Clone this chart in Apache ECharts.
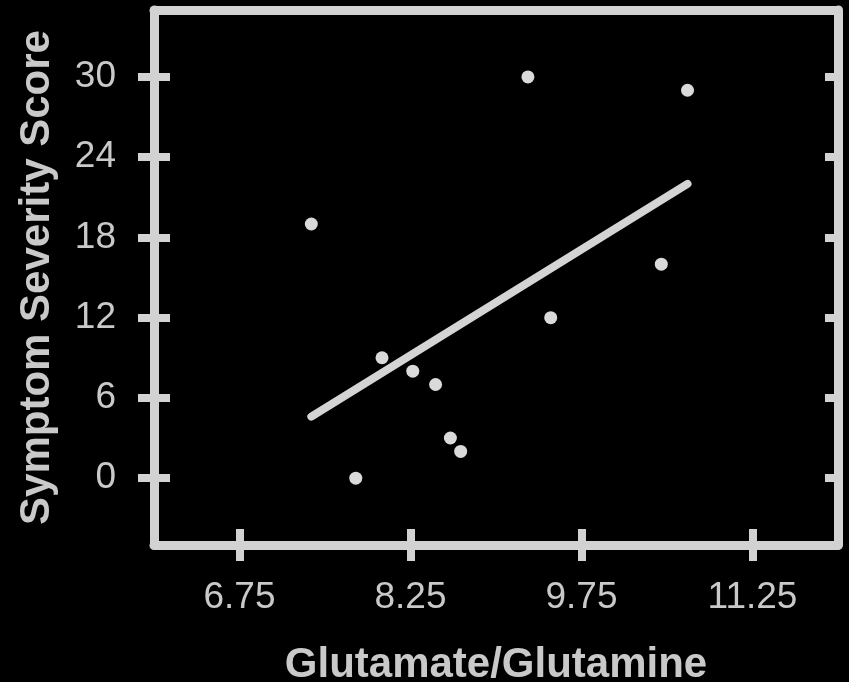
<!DOCTYPE html>
<html>
<head>
<meta charset="utf-8">
<script src="https://cdn.jsdelivr.net/npm/echarts@6/dist/echarts.min.js"></script>
<style>
html,body{margin:0;padding:0;background:#000;}
#chart{width:849px;height:682px;}
</style>
</head>
<body>
<div id="chart"></div>
<script>
// Data
const glutamateRatio = [7.38, 7.77, 8.00, 8.27, 8.47, 8.60, 8.69, 9.28, 9.48, 10.45, 10.68];
const severityScore  = [19, 0, 9, 8, 7, 3, 2, 30, 12, 16, 29];
const fitLineX = [7.38, 10.68];
const fitLineY = [4.6, 22.0];
const xTickValues = [6.75, 8.25, 9.75, 11.25];
const yTickValues = [0, 6, 12, 18, 24, 30];
const xTitle = 'Glutamate/Glutamine';
const yTitle = 'Symptom Severity Score';

const FG = '#d2d2d2';
const TXT = '#c9c9c9';
const FONT = '"Liberation Sans", Arial, sans-serif';

const chart = echarts.init(document.getElementById('chart'), null, {renderer: 'canvas'});

const lineStyle = {color: FG, width: 9, cap: 'round'};
const tickStyle = {color: FG, width: 8};
const xBase = {type: 'value', min: 6, max: 12, splitLine: {show: false}};
const yBase = {type: 'value', min: -5, max: 35, splitLine: {show: false}};

chart.setOption({
  backgroundColor: '#000',
  animation: false,
  grid: {left: 154, right: 11, top: 10, bottom: 137, containLabel: false, outerBoundsMode: 'none'},
  xAxis: [
    Object.assign({}, xBase, {
      position: 'bottom',
      axisLine: {show: true, onZero: false, lineStyle: lineStyle},
      axisTick: {show: true, inside: false, length: 16, customValues: xTickValues, lineStyle: tickStyle},
      axisLabel: {show: true, customValues: xTickValues, margin: 34, color: TXT, fontSize: 37, fontFamily: FONT,
        formatter: v => v.toFixed(2)},
      name: xTitle, nameLocation: 'middle', nameGap: 99,
      nameTextStyle: {color: TXT, fontSize: 42, fontWeight: 'bold', fontFamily: FONT}
    }),
    Object.assign({}, xBase, {
      position: 'bottom',
      axisLine: {show: false, onZero: false},
      axisTick: {show: true, inside: true, length: 16, customValues: xTickValues, lineStyle: tickStyle},
      axisLabel: {show: false}
    }),
    Object.assign({}, xBase, {
      position: 'top',
      axisLine: {show: true, onZero: false, lineStyle: lineStyle},
      axisTick: {show: false},
      axisLabel: {show: false}
    })
  ],
  yAxis: [
    Object.assign({}, yBase, {
      position: 'left',
      axisLine: {show: true, onZero: false, lineStyle: lineStyle},
      axisTick: {show: true, inside: false, length: 16, customValues: yTickValues, lineStyle: tickStyle},
      axisLabel: {show: true, customValues: yTickValues, margin: 38, color: TXT, fontSize: 37, fontFamily: FONT},
      name: yTitle, nameLocation: 'middle', nameGap: 96, nameRotate: 90,
      nameTextStyle: {color: TXT, fontSize: 42, fontWeight: 'bold', fontFamily: FONT}
    }),
    Object.assign({}, yBase, {
      position: 'left',
      axisLine: {show: false, onZero: false},
      axisTick: {show: true, inside: true, length: 16, customValues: yTickValues, lineStyle: tickStyle},
      axisLabel: {show: false}
    }),
    Object.assign({}, yBase, {
      position: 'right',
      axisLine: {show: true, onZero: false, lineStyle: lineStyle},
      axisTick: {show: true, inside: true, length: 13, customValues: yTickValues, lineStyle: tickStyle},
      axisLabel: {show: false}
    })
  ],
  series: [
    {
      type: 'line',
      xAxisIndex: 0, yAxisIndex: 0,
      data: fitLineX.map((x, i) => [x, fitLineY[i]]),
      symbol: 'none',
      lineStyle: {color: '#d4d4d4', width: 8, cap: 'round'},
      z: 3
    },
    {
      type: 'scatter',
      xAxisIndex: 0, yAxisIndex: 0,
      data: glutamateRatio.map((x, i) => [x, severityScore[i]]),
      symbol: 'circle',
      symbolSize: 13,
      itemStyle: {color: '#dadada', opacity: 1},
      z: 4
    }
  ]
});
</script>
</body>
</html>
